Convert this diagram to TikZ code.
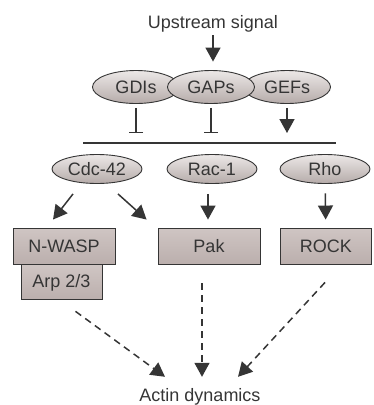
\documentclass[tikz,border=0pt]{standalone}
\usepackage{fontspec}
\setmainfont{Liberation Sans}
\usetikzlibrary{arrows.meta,shapes.geometric}
\definecolor{ink}{HTML}{353535}
\definecolor{elltop}{HTML}{ECE8E7}
\definecolor{ellbot}{HTML}{B5ABA9}
\definecolor{boxtop}{HTML}{CFC5C3}
\definecolor{boxbot}{HTML}{BBAFAD}
\tikzset{>={Triangle[length=14pt,width=15pt]}}

\begin{document}
\begin{tikzpicture}[x=1pt, y=-1pt,
    every node/.style={font=\fontsize{18}{21}\selectfont, text=ink},
    gtp/.style={ellipse, draw=ink, line width=0.9pt, top color=elltop, bottom color=ellbot,
        minimum width=87pt, minimum height=33pt, inner sep=0pt},
    eff/.style={rectangle, draw=ink, line width=0.9pt, top color=boxtop, bottom color=boxbot,
        minimum height=36pt, inner sep=0pt},
    act/.style={->, draw=ink, line width=1.5pt},
    inh/.style={-{Bar[width=14pt]}, draw=ink, line width=1.5pt},
    dsh/.style={act, dash pattern=on 7pt off 5pt}]
    \useasboundingbox (0,0) rectangle (374,405);

    \node[anchor=base] (up) at (213,28) {Upstream signal};
    \node[gtp] (gdi) at (136,87) {GDIs};
    \node[gtp] (gef) at (287,87) {GEFs};
    \node[gtp] (gap) at (211,87) {GAPs};
    \draw[act, shorten >=8.5pt] (up) -- (up |- gap.north);

    % the bar the regulators act on
    \coordinate (bl) at (83,143);
    \coordinate (br) at (336,143);
    \draw[ink, line width=2pt] (bl) -- (br);
    \draw[inh, shorten <=4pt, shorten >=10pt] (gdi) -- (gdi |- bl);
    \draw[inh, shorten <=4pt, shorten >=10pt] (gap) -- (gap |- bl);
    \draw[act, shorten <=4pt, shorten >=10pt] (gef) -- (gef |- bl);

    \node[gtp, minimum width=90pt, minimum height=29pt] (cdc) at (97,169) {Cdc-42};
    \node[gtp, minimum width=90pt, minimum height=29pt] (rac) at (212,169) {Rac-1};
    \node[gtp, minimum width=90pt, minimum height=29pt] (rho) at (325,169) {Rho};

    \node[eff, minimum width=102pt] (wasp) at (64,246) {N-WASP};
    \node[eff, minimum width=81pt, minimum height=35pt, anchor=north] (arp) at ([xshift=-2.5pt]wasp.south) {Arp 2/3};
    \node[eff, minimum width=102pt] (pak) at (209,246) {Pak};
    \node[eff, minimum width=91pt] (rock) at (326,246) {ROCK};

    \draw[act] ([shift={(-24,10)}]cdc.south) -- ([shift={(-11,-8)}]wasp.north);
    \draw[act] ([shift={(21,10)}]cdc.south) -- ([shift={(-11,-8)}]pak.north west);
    \draw[act] ([shift={(-4,10)}]rac.south) -- ([shift={(-1,-8)}]pak.north);
    \draw[act, shorten <=9.5pt, shorten >=8pt] (rho) -- (rock);

    \node[anchor=base, text height=13pt, text depth=4pt, inner sep=0pt] (actin) at (200,401) {Actin dynamics};
    \draw[dsh] ([shift={(14,11)}]arp.south) -- ([shift={(-35,-11)}]actin.north);
    \draw[dsh] ([shift={(-7,19)}]pak.south) -- ([shift={(2,-11)}]actin.north);
    \draw[dsh] ([shift={(-1,18)}]rock.south) -- ([shift={(38,-11)}]actin.north);
\end{tikzpicture}
\end{document}
